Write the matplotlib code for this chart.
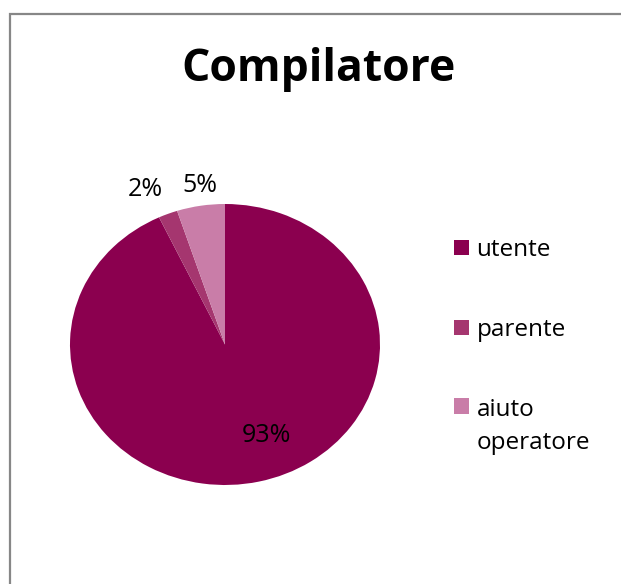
import matplotlib.pyplot as plt
from matplotlib.patches import Rectangle

categorie = ["utente", "parente", "aiuto\noperatore"]
percentuali = [93, 2, 5]
colori = ["#8B004F", "#A5366F", "#C97DA8"]

plt.rcParams['font.family'] = ['Open Sans', 'DejaVu Sans']

W, H = 621, 584
fig = plt.figure(figsize=(W / 100, H / 100), dpi=100)

# cornice grigia del grafico (solo lati sinistro e superiore visibili)
fig.add_artist(Rectangle((10 / W, -0.1), 1.0, 0.1 + (H - 14.5) / H,
                         transform=fig.transFigure, fill=False,
                         edgecolor="#878787", linewidth=1.6))

fig.text(318 / W, (H - 69) / H, "Compilatore", ha="center", va="center",
         fontsize=32, fontweight="bold")

# torta leggermente ovale come nell'originale
ax = fig.add_axes([70 / W, (H - 485) / H, 310 / W, 281 / H])
wedges, testi, perc = ax.pie(percentuali, colors=colori, startangle=90,
                             counterclock=False, autopct="%.0f%%",
                             wedgeprops=dict(linewidth=0),
                             textprops=dict(fontsize=18, color="black"))
ax.set_aspect("auto")
ax.set_xlim(-1, 1)
ax.set_ylim(-1, 1)

# posizioni delle etichette percentuali
perc[0].set_position((0.27, -0.65))
perc[1].set_position((-0.516, 1.10))
perc[2].set_position((-0.16, 1.135))

fs = 17.5
leg = fig.legend(wedges, categorie, loc="upper left",
                 bbox_to_anchor=(454 / W, (H - 238) / H),
                 frameon=False, fontsize=fs, borderpad=0, borderaxespad=0,
                 handlelength=0.6, handleheight=0.6, handletextpad=0.33,
                 labelspacing=2.3)
leg.get_texts()[2].set_linespacing(1.5)
# il quadratino dell'ultima voce allineato alla prima riga
p = leg.get_patches()[2]
p.set_y(p.get_y() + 0.85 * fs)

fig.savefig("out.png", dpi=100)
